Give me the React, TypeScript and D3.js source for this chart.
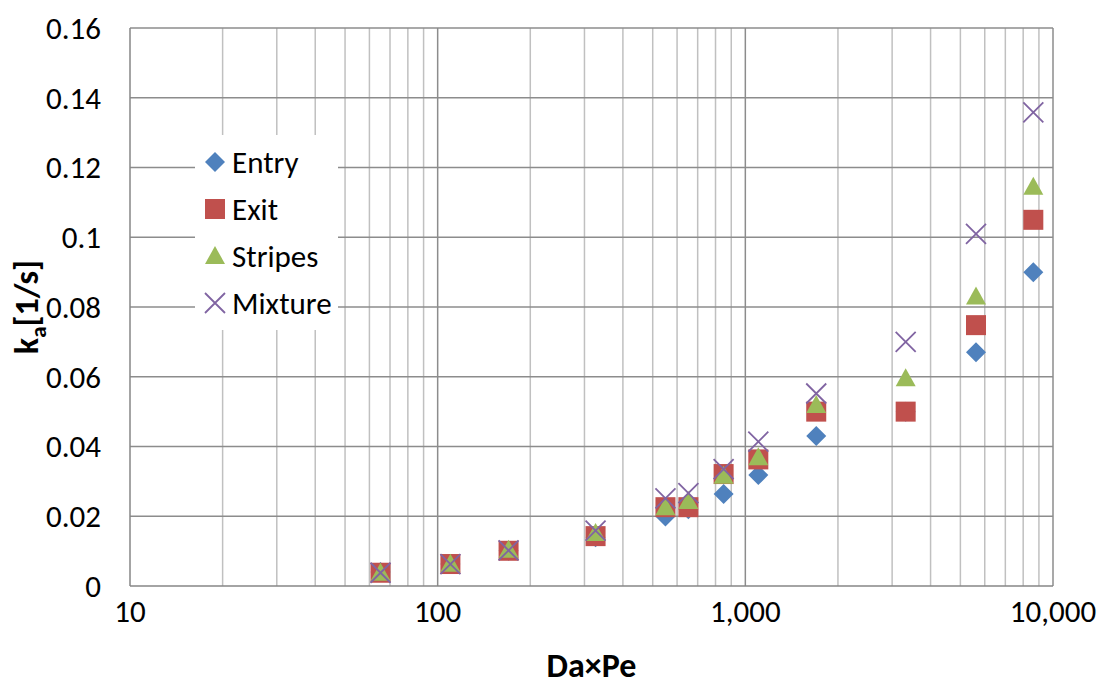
import React, { useEffect, useRef } from "react";
import * as d3 from "d3";

// Da×Pe values (x) shared by all series
const daPe = [65.2, 110, 170, 326, 550, 653, 850, 1102, 1700, 3320, 5620, 8630];

const entry = [0.004, 0.0063, 0.0101, 0.014, 0.0199, 0.022, 0.0264, 0.0318, 0.043, 0.05, 0.067, 0.09];
const exit = [0.0038, 0.0063, 0.0101, 0.0143, 0.0226, 0.0226, 0.0321, 0.0363, 0.05, 0.05, 0.0748, 0.105];
const stripes = [0.0038, 0.0064, 0.0104, 0.0152, 0.0226, 0.0244, 0.0316, 0.0369, 0.0519, 0.0596, 0.083, 0.1145];
const mixture = [0.0038, 0.0063, 0.0102, 0.0159, 0.0251, 0.0266, 0.0335, 0.0414, 0.0552, 0.07, 0.101, 0.1358];

const seriesNames = ["Entry", "Exit", "Stripes", "Mixture"];
const yTicks = [0, 0.02, 0.04, 0.06, 0.08, 0.1, 0.12, 0.14, 0.16];
const xTicks = [10, 100, 1000, 10000];

const colors = ["#4F81BD", "#C0504D", "#9BBB59", "#8064A2"];
const FONT = "Carlito, Calibri, 'Open Sans', sans-serif";

const App = () => {
  const ref = useRef<SVGSVGElement>(null);

  const width = 1099;
  const height = 686;
  const margin = { top: 28, right: 46, bottom: 100, left: 130 };

  useEffect(() => {
    drawChart();
  }, []);

  function drawMarker(g: any, kind: number, color: string) {
    const s = 10;
    if (kind === 0) {
      g.append("path").attr("d", `M0,${-s}L${s},0L0,${s}L${-s},0Z`).attr("fill", color);
    } else if (kind === 1) {
      g.append("rect").attr("x", -s).attr("y", -s).attr("width", 2 * s).attr("height", 2 * s).attr("fill", color);
    } else if (kind === 2) {
      g.append("path").attr("d", `M0,${-s}L${s},${s * 0.8}L${-s},${s * 0.8}Z`).attr("fill", color);
    } else {
      g.append("path")
        .attr("d", `M${-s},${-s}L${s},${s}M${-s},${s}L${s},${-s}`)
        .attr("stroke", color)
        .attr("stroke-width", 1.8)
        .attr("fill", "none");
    }
  }

  function drawChart() {
    const svg = d3.select(ref.current);
    svg.selectAll("*").remove();

    const x = d3
      .scaleLog()
      .domain([10, 10000])
      .range([margin.left, width - margin.right]);
    const y = d3
      .scaleLinear()
      .domain([0, 0.16])
      .range([height - margin.bottom, margin.top]);

    const minor: number[] = [];
    for (let d = 10; d < 10000; d *= 10) {
      for (let k = 2; k <= 9; k++) minor.push(d * k);
    }

    // minor vertical gridlines
    svg
      .append("g")
      .selectAll("line")
      .data(minor)
      .enter()
      .append("line")
      .attr("x1", (d) => x(d))
      .attr("x2", (d) => x(d))
      .attr("y1", y(0))
      .attr("y2", y(0.16))
      .attr("stroke", "#c0c0c0")
      .attr("stroke-width", 1.5);

    // major vertical gridlines
    svg
      .append("g")
      .selectAll("line")
      .data(xTicks.slice(1))
      .enter()
      .append("line")
      .attr("x1", (d) => x(d))
      .attr("x2", (d) => x(d))
      .attr("y1", y(0))
      .attr("y2", y(0.16))
      .attr("stroke", "#8c8c8c")
      .attr("stroke-width", 1.5);

    // horizontal gridlines
    svg
      .append("g")
      .selectAll("line")
      .data(yTicks.slice(1))
      .enter()
      .append("line")
      .attr("x1", x(10))
      .attr("x2", x(10000))
      .attr("y1", (d) => y(d))
      .attr("y2", (d) => y(d))
      .attr("stroke", "#8c8c8c")
      .attr("stroke-width", 1.5);

    // axes lines
    svg
      .append("line")
      .attr("x1", x(10))
      .attr("x2", x(10))
      .attr("y1", y(0))
      .attr("y2", y(0.16))
      .attr("stroke", "#868686")
      .attr("stroke-width", 1.5);
    svg
      .append("line")
      .attr("x1", x(10))
      .attr("x2", x(10000))
      .attr("y1", y(0))
      .attr("y2", y(0))
      .attr("stroke", "#868686")
      .attr("stroke-width", 1.5);

    // y tick labels
    svg
      .append("g")
      .selectAll("text")
      .data(yTicks)
      .enter()
      .append("text")
      .attr("x", 101)
      .attr("y", (d) => y(d))
      .attr("dy", "0.35em")
      .attr("text-anchor", "end")
      .style("font-family", FONT)
      .style("font-size", "31px")
      .text((d) => String(d));

    // x tick labels
    svg
      .append("g")
      .selectAll("text")
      .data(xTicks)
      .enter()
      .append("text")
      .attr("x", (d) => x(d))
      .attr("y", 611)
      .attr("dy", "0.35em")
      .attr("text-anchor", "middle")
      .style("font-family", FONT)
      .style("font-size", "31px")
      .text((d) => d3.format(",")(d));

    // axis titles
    svg
      .append("text")
      .attr("x", (x(10) + x(10000)) / 2)
      .attr("y", 677)
      .attr("text-anchor", "middle")
      .style("font-family", FONT)
      .style("font-size", "34px")
      .style("font-weight", "bold")
      .text("Da×Pe");

    const yTitle = svg
      .append("text")
      .attr("transform", `translate(38, ${(y(0) + y(0.16)) / 2}) rotate(-90)`)
      .attr("text-anchor", "middle")
      .style("font-family", FONT)
      .style("font-size", "34px")
      .style("font-weight", "bold");
    yTitle.append("tspan").text("k");
    yTitle.append("tspan").attr("dy", 8).style("font-size", "23px").text("a");
    yTitle.append("tspan").attr("dy", -8).text("[1/s]");

    // legend background
    svg
      .append("rect")
      .attr("x", 195)
      .attr("y", 135)
      .attr("width", 143)
      .attr("height", 195)
      .attr("fill", "#ffffff");

    // points
    const allSeries = [entry, exit, stripes, mixture];
    allSeries.forEach((vals, si) => {
      const g = svg.append("g");
      vals.forEach((v, i) => {
        const m = g.append("g").attr("transform", `translate(${x(daPe[i])}, ${y(v)})`);
        drawMarker(m, si, colors[si]);
      });
    });

    // legend
    seriesNames.forEach((name, i) => {
      const cy = 162 + i * 47;
      const m = svg.append("g").attr("transform", `translate(215, ${cy})`);
      drawMarker(m, i, colors[i]);
      svg
        .append("text")
        .attr("x", 232)
        .attr("y", cy)
        .attr("dy", "0.35em")
        .style("font-family", FONT)
        .style("font-size", "31px")
        .text(name);
    });
  }

  return (
    <svg
      ref={ref}
      width={width}
      height={height}
      style={{ position: "absolute", left: 0, top: 0, background: "#fff" }}
    />
  );
};

export default App;
